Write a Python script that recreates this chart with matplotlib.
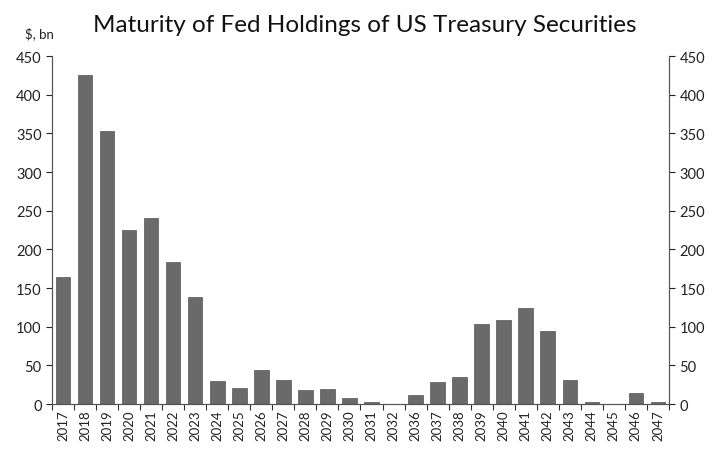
import numpy as np
import matplotlib
matplotlib.use("Agg")
import matplotlib.pyplot as plt

years = ["2017", "2018", "2019", "2020", "2021", "2022", "2023", "2024", "2025",
         "2026", "2027", "2028", "2029", "2030", "2031", "2032", "2036", "2037",
         "2038", "2039", "2040", "2041", "2042", "2043", "2044", "2045", "2046", "2047"]
holdings = [164, 425, 353, 225, 240, 184, 138, 30, 21,
            44, 31, 18, 19.5, 8, 2, 0.5, 12, 28,
            35, 103, 109, 124, 95, 31, 2, 0.5, 14, 2]
yticks = [0, 50, 100, 150, 200, 250, 300, 350, 400, 450]

plt.rcParams['font.family'] = ['Lato', 'DejaVu Sans']

fig = plt.figure(figsize=(7.25, 4.56), dpi=100)
ax = fig.add_axes([0.0717, 0.1118, 0.851, 0.763])

x = np.arange(len(years))
ax.bar(x, holdings, width=0.66, color='#6a6a6a', edgecolor='#555555', linewidth=0.5)

ax.set_xlim(-0.5, len(years) - 0.5)
ax.set_ylim(0, 450)
ax.set_yticks(yticks)
ax.tick_params(axis='y', labelsize=10.5, colors='#222222', length=4, width=0.8)

ax.set_xticks(x)
ax.set_xticklabels(years, rotation=90, fontsize=9.5, color='#222222')
ax.tick_params(axis='x', which='major', length=0, pad=4)
ax.set_xticks(np.arange(-0.5, len(years)), minor=True)
ax.tick_params(axis='x', which='minor', length=4, width=0.8, color='#333333')

ax2 = ax.twinx()
ax2.set_ylim(0, 450)
ax2.set_yticks(yticks)
ax2.tick_params(axis='y', labelsize=10.5, colors='#222222', length=4, width=0.8)

for a in (ax, ax2):
    a.spines['top'].set_visible(False)
    for s in ('left', 'right', 'bottom'):
        a.spines[s].set_color('#555555')
        a.spines[s].set_linewidth(0.8)

fig.text(0.503, 0.945, "Maturity of Fed Holdings of US Treasury Securities",
         ha='center', va='center', fontsize=17.5, color='#111111')
fig.text(0.055, 0.925, "$, bn", ha='center', va='center', fontsize=9.5, color='#222222')

fig.savefig("out.png", dpi=100)
